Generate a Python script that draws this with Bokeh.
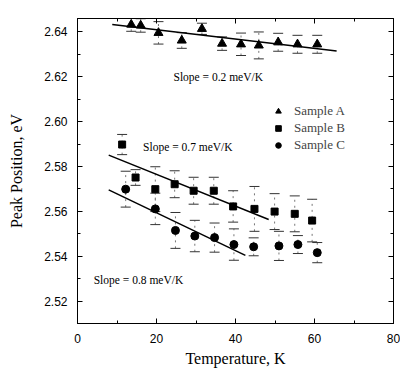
from bokeh.plotting import figure
from bokeh.models import (ColumnDataSource, Whisker, TeeHead, Label, Legend, LegendItem,
                          LinearAxis, FixedTicker, NumeralTickFormatter, Range1d,
                          CustomJSTickFormatter)
from bokeh.embed import file_html
from bokeh.resources import INLINE

# ---- data ----
tA = [13.6, 16.0, 20.5, 26.4, 31.5, 36.6, 41.4, 45.9, 50.8, 55.7, 60.7]
eA = [2.6433, 2.6429, 2.6396, 2.6362, 2.6414, 2.6348, 2.6345, 2.6340, 2.6354, 2.6345, 2.6345]
errA = [0.003, 0.003, 0.005, 0.0035, 0.0025, 0.003, 0.005, 0.006, 0.004, 0.004, 0.004]

tB = [11.3, 14.7, 19.7, 24.6, 29.4, 34.5, 39.4, 44.8, 49.9, 55.0, 59.4]
eB = [2.5898, 2.5751, 2.5699, 2.5721, 2.5692, 2.5692, 2.5622, 2.5611, 2.5599, 2.5589, 2.5559]
errB = [0.0045, 0.0035, 0.010, 0.006, 0.006, 0.006, 0.007, 0.010, 0.008, 0.008, 0.0095]

tC = [12.2, 19.7, 24.8, 29.7, 34.7, 39.6, 44.6, 51.0, 55.8, 60.7]
eC = [2.5699, 2.5611, 2.5515, 2.5490, 2.5483, 2.5452, 2.5442, 2.5446, 2.5452, 2.5416]
errC = [0.008, 0.007, 0.008, 0.007, 0.0065, 0.007, 0.004, 0.0065, 0.004, 0.0045]

fitA_t = [8.8, 65.6]
fitA_e = [2.6433, 2.6315]
fitB_t = [7.9, 48.4]
fitB_e = [2.5851, 2.5564]
fitC_t = [7.9, 42.5]
fitC_e = [2.5696, 2.5404]

series_names = ["Sample A", "Sample B", "Sample C"]
slope_texts = ["Slope = 0.2 meV/K", "Slope = 0.7 meV/K", "Slope = 0.8 meV/K"]
x_ticks = [0, 20, 40, 60, 80]
y_ticks = [2.52, 2.54, 2.56, 2.58, 2.60, 2.62, 2.64]

SERIF = "Liberation Serif"
SANS = "Liberation Sans"

p = figure(width=400, height=369, output_backend="svg", toolbar_location=None,
           x_range=Range1d(0, 80), y_range=Range1d(2.51, 2.646),
           min_border_left=77, min_border_right=7, min_border_top=18, min_border_bottom=43)
p.xgrid.visible = False
p.ygrid.visible = False
p.outline_line_color = "black"
p.outline_line_width = 1
p.background_fill_color = "white"
p.border_fill_color = "white"


def style_axis(ax, labels=True):
    ax.axis_line_color = "black"
    ax.major_tick_in = 5
    ax.major_tick_out = 0
    ax.minor_tick_in = 3
    ax.minor_tick_out = 0
    ax.major_tick_line_color = "black"
    ax.minor_tick_line_color = "black"
    if labels:
        ax.major_label_text_font = SANS
        ax.major_label_text_font_size = "12px"
        ax.major_label_text_color = "black"
        ax.axis_label_text_font = SERIF
        ax.axis_label_text_font_size = "16px"
        ax.axis_label_text_font_style = "normal"
        ax.axis_label_text_color = "black"
    else:
        ax.formatter = CustomJSTickFormatter(code="return ''")
        ax.major_label_standoff = 0
        ax.axis_label = None


xt = FixedTicker(ticks=x_ticks, minor_ticks=[10, 30, 50, 70])
yt = FixedTicker(ticks=y_ticks, minor_ticks=[2.51, 2.53, 2.55, 2.57, 2.59, 2.61, 2.63])

p.xaxis.ticker = xt
p.yaxis.ticker = yt
p.xaxis.axis_label = "Temperature, K"
p.yaxis.axis_label = "Peak Position, eV"
p.yaxis.formatter = NumeralTickFormatter(format="0.00")
for ax in p.xaxis:
    style_axis(ax)
    ax.major_label_standoff = 10
    ax.axis_label_standoff = 4
for ax in p.yaxis:
    style_axis(ax)
    ax.major_label_standoff = 10
    ax.axis_label_standoff = 16

top_ax = LinearAxis(ticker=xt)
style_axis(top_ax, labels=False)
p.add_layout(top_ax, "above")
right_ax = LinearAxis(ticker=yt)
style_axis(right_ax, labels=False)
p.add_layout(right_ax, "right")

renderers = []
for t, e, err, marker, size in [(tA, eA, errA, "triangle", 9),
                                (tB, eB, errB, "square", 7),
                                (tC, eC, errC, "circle", 8)]:
    src = ColumnDataSource(dict(t=t, e=e,
                                up=[a + b for a, b in zip(e, err)],
                                lo=[a - b for a, b in zip(e, err)]))
    w = Whisker(source=src, base="t", upper="up", lower="lo",
                line_color="#777777", line_dash="dotted", line_width=1,
                upper_head=TeeHead(size=10, line_color="#333333", line_width=1),
                lower_head=TeeHead(size=10, line_color="#333333", line_width=1))
    p.add_layout(w)
    r = p.scatter("t", "e", source=src, marker=marker, size=size,
                  fill_color="black", line_color="black")
    renderers.append(r)

for ft, fe in [(fitA_t, fitA_e), (fitB_t, fitB_e), (fitC_t, fitC_e)]:
    p.line(ft, fe, line_color="black", line_width=1.5)

for (lx, ly), txt in zip([(24.3, 2.6199), (16.6, 2.5885), (4.1, 2.5293)], slope_texts):
    p.add_layout(Label(x=lx, y=ly, text=txt, text_font=SERIF, text_font_size="11.5px",
                       text_baseline="middle", text_align="left", text_color="black"))

legend = Legend(items=[LegendItem(label=n, renderers=[r]) for n, r in zip(series_names, renderers)],
                location=(194, 170), padding=0, margin=0, spacing=1,
                glyph_width=14, glyph_height=16, label_height=16, label_standoff=9,
                label_text_font=SERIF, label_text_font_size="13px",
                border_line_color=None, background_fill_alpha=0)
p.add_layout(legend, "center")

open("out.html", "w").write(file_html(p, INLINE))
